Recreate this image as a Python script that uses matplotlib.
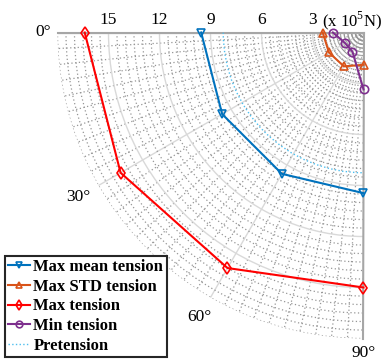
import numpy as np
import matplotlib.pyplot as plt

plt.rcParams['font.family'] = ['Liberation Serif', 'DejaVu Serif']
plt.rcParams['mathtext.fontset'] = 'custom'
plt.rcParams['mathtext.rm'] = 'Liberation Serif'

# data (x 10^5 N), angles in degrees
angles_deg = [0, 30, 60, 90]
max_mean = [9.55, 9.6, 9.6, 9.45]
max_std = [2.4, 2.35, 2.3, 1.9]
max_tension = [16.4, 16.5, 16.0, 15.0]
min_tension = [1.8, 1.25, 1.3, 3.35]
pre_angles = [0, 90]
pretension = [8.25, 8.25]

r_ticks = [3, 6, 9, 12, 15]
theta_ticks = [0, 30, 60, 90]
theta_label_r = [18.85, 19.35, 19.35, 18.85]
r_max = 18


def draw():
    fig = plt.figure(figsize=(3.81, 3.6), dpi=100)
    ax = fig.add_axes([57.5 / 381, 1 - 338.5 / 360, 306 / 381, 306 / 360],
                      projection='polar')
    ax.set_theta_zero_location('W')
    ax.set_theta_direction(1)
    ax.set_thetamin(0)
    ax.set_thetamax(90)
    ax.set_rlim(0, r_max)

    # grid
    ax.set_xticks(np.deg2rad(theta_ticks))
    ax.set_xticks(np.deg2rad(np.arange(0, 91, 3)), minor=True)
    ax.set_yticks(r_ticks)
    ax.set_yticks(np.arange(0.5, r_max + 0.01, 0.5), minor=True)
    ax.set_xticklabels([])
    ax.set_yticklabels([])
    ax.tick_params(which='both', length=0)
    ax.grid(which='minor', color='#969696', lw=0.9, ls=(0, (1, 2)))
    ax.grid(which='major', color='#d9d9d9', lw=1.0, ls='-')
    ax.spines['polar'].set_visible(False)
    ax.spines['inner'].set_visible(False)
    for s in ['start', 'end']:
        ax.spines[s].set_color('#a6a6a6')
        ax.spines[s].set_linewidth(1.5)

    th = np.deg2rad(angles_deg)
    ax.plot(th, max_mean, color='#0072BD', marker='v', mfc='none', ms=6,
            mew=1.2, lw=1.5, clip_on=False, zorder=5, label='Max mean tension')
    ax.plot(th, max_std, color='#D95319', marker='^', mfc='none', ms=6,
            mew=1.2, lw=1.5, clip_on=False, zorder=5, label='Max STD tension')
    ax.plot(th, max_tension, color='#FF0000', marker='d', mfc='none', ms=6,
            mew=1.2, lw=1.5, clip_on=False, zorder=5, label='Max tension')
    ax.plot(th, min_tension, color='#7E2F8E', marker='o', mfc='none', ms=6,
            mew=1.2, lw=1.5, clip_on=False, zorder=5, label='Min tension')
    pre, = ax.plot(np.deg2rad(pre_angles), pretension, color='#4DBEEE',
                   ls=':', lw=1.0, zorder=4, label='Pretension')
    pre._path._interpolation_steps = 100  # draw as an arc

    # tick labels
    for r in r_ticks:
        ax.annotate(str(r), xy=(0, r), xytext=(0, 6), textcoords='offset points',
                    ha='center', va='baseline', fontsize=12.5,
                    annotation_clip=False)
    for t, rr in zip(theta_ticks, theta_label_r):
        ax.text(np.deg2rad(t), rr, f'{t}°', ha='center', va='center',
                fontsize=12.5, clip_on=False)
    fig.text(322 / 381, 1 - 26 / 360, r'(x 10$^{5}$N)', ha='left',
             va='baseline', fontsize=12)

    leg = fig.legend(loc='lower left', bbox_to_anchor=(5 / 381, 3 / 360),
                     prop={'weight': 'bold', 'size': 12}, fancybox=False,
                     edgecolor='#262626', framealpha=1, borderaxespad=0,
                     borderpad=0.2, labelspacing=0.22, handlelength=1.3,
                     handletextpad=0.2, markerscale=0.8)
    leg.get_frame().set_linewidth(1.5)

    fig.savefig('out.png', dpi=100)


if __name__ == "__main__":
    draw()
